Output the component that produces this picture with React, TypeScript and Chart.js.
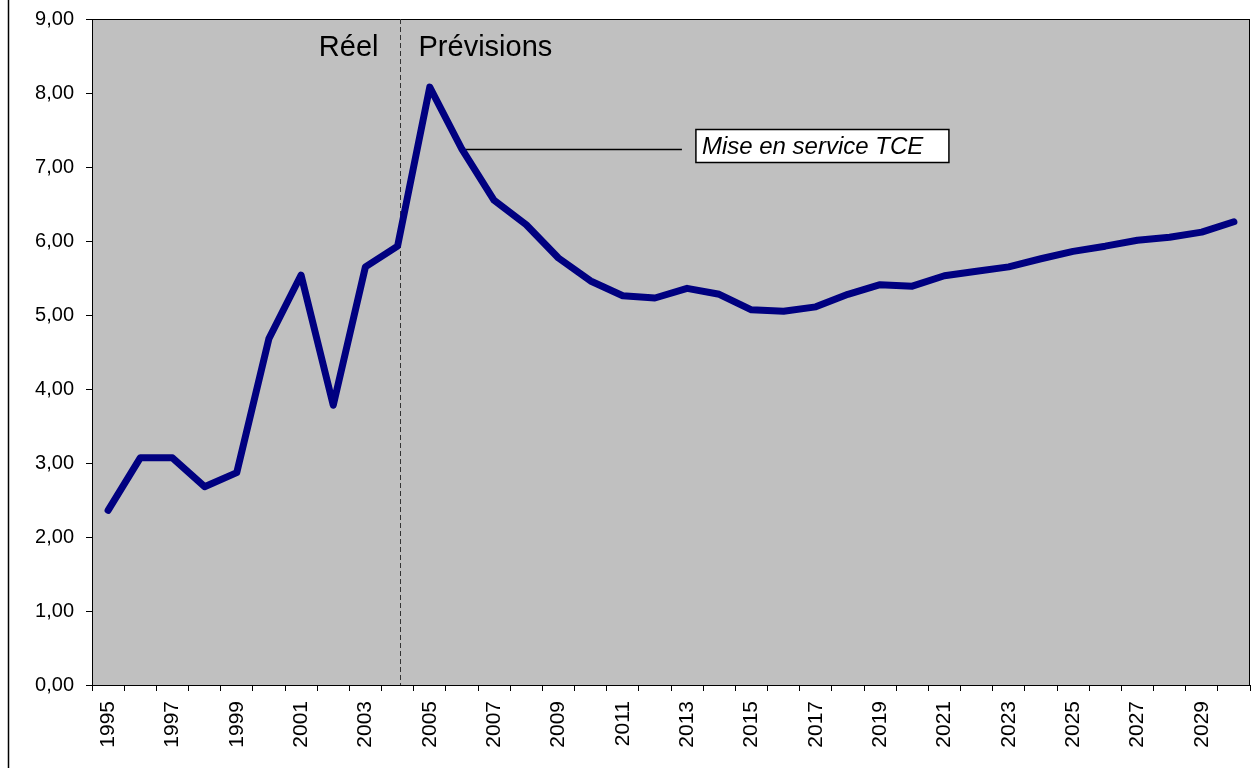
import React, { useEffect, useRef } from "react";
import { Chart, registerables } from "chart.js";

Chart.register(...registerables);

const years: string[] = [
  "1995","1996","1997","1998","1999","2000","2001","2002","2003","2004",
  "2005","2006","2007","2008","2009","2010","2011","2012","2013","2014",
  "2015","2016","2017","2018","2019","2020","2021","2022","2023","2024",
  "2025","2026","2027","2028","2029","2030",
];

const values: number[] = [
  2.36, 3.07, 3.07, 2.68, 2.87, 4.68, 5.54, 3.78, 5.65, 5.93,
  8.08, 7.24, 6.55, 6.22, 5.77, 5.46, 5.26, 5.23, 5.36, 5.28,
  5.07, 5.05, 5.11, 5.28, 5.41, 5.39, 5.53, 5.59, 5.65, 5.76,
  5.86, 5.93, 6.01, 6.05, 6.12, 6.26,
];

const labelReel = "Réel";
const labelPrev = "Prévisions";
const annotationText = "Mise en service TCE";
const splitIndex = 9; // 2004
const annotIndex = 11; // 2006

const FONT = "Arial, 'Liberation Sans', sans-serif";

const decorPlugin = {
  id: "decor",
  beforeDraw(chart: any) {
    const { ctx, chartArea } = chart;
    ctx.save();
    ctx.fillStyle = "#ffffff";
    ctx.fillRect(0, 0, chart.width, chart.height);
    ctx.fillStyle = "#C0C0C0";
    ctx.fillRect(chartArea.left, chartArea.top, chartArea.right - chartArea.left, chartArea.bottom - chartArea.top);
    ctx.strokeStyle = "#000";
    ctx.lineWidth = 1.5;
    ctx.beginPath();
    ctx.moveTo(8.5, 0);
    ctx.lineTo(8.5, chart.height);
    ctx.stroke();
    ctx.restore();
  },
  beforeDatasetsDraw(chart: any) {
    const { ctx, chartArea, scales } = chart;
    const x = scales.x;
    const y = scales.y;
    ctx.save();
    ctx.strokeStyle = "#000";
    ctx.lineWidth = 1;
    ctx.strokeRect(chartArea.left + 0.5, chartArea.top + 0.5, chartArea.right - chartArea.left - 1, chartArea.bottom - chartArea.top);
    const sx = Math.round(x.getPixelForValue(splitIndex) * 0.92 + x.getPixelForValue(splitIndex + 1) * 0.08) + 0.5;
    ctx.strokeStyle = "#333";
    ctx.lineWidth = 1;
    ctx.setLineDash([5, 3]);
    ctx.beginPath();
    ctx.moveTo(sx, chartArea.top);
    ctx.lineTo(sx, chartArea.bottom);
    ctx.stroke();
    ctx.setLineDash([]);
    ctx.fillStyle = "#000";
    ctx.font = `29px ${FONT}`;
    ctx.textBaseline = "alphabetic";
    ctx.textAlign = "right";
    ctx.fillText(labelReel, sx - 22, y.getPixelForValue(8.5));
    ctx.textAlign = "left";
    ctx.fillText(labelPrev, sx + 18, y.getPixelForValue(8.5));
    const ax = x.getPixelForValue(annotIndex) + 4;
    const ay = Math.round(y.getPixelForValue(values[annotIndex])) + 0.5;
    const bx = x.getPixelForValue(annotIndex) + 234;
    const bw = 253;
    const bh = 33;
    ctx.strokeStyle = "#000";
    ctx.lineWidth = 1.5;
    ctx.beginPath();
    ctx.moveTo(ax, ay);
    ctx.lineTo(bx - 14, ay);
    ctx.stroke();
    ctx.fillStyle = "#fff";
    ctx.fillRect(bx, ay - 20, bw, bh);
    ctx.strokeRect(bx, ay - 20, bw, bh);
    ctx.fillStyle = "#000";
    ctx.font = `italic 24px ${FONT}`;
    ctx.textAlign = "left";
    ctx.fillText(annotationText, bx + 6, ay + 4);
    ctx.restore();
  },
};

export default function App() {
  const ref = useRef<HTMLCanvasElement | null>(null);
  useEffect(() => {
    if (!ref.current) return;
    const chart = new Chart(ref.current, {
      type: "line",
      data: {
        labels: years,
        datasets: [
          {
            data: values,
            borderColor: "#000080",
            backgroundColor: "#000080",
            borderWidth: 7,
            pointRadius: 0,
            tension: 0,
            borderCapStyle: "round",
            borderJoinStyle: "round",
            fill: false,
          },
        ],
      },
      options: {
        animation: false,
        responsive: false,
        devicePixelRatio: 1,
        layout: { padding: { top: 19, right: 2, left: 0, bottom: 0 } },
        plugins: { legend: { display: false }, tooltip: { enabled: false } },
        scales: {
          x: {
            type: "category",
            offset: true,
            grid: { offset: true, drawOnChartArea: false, drawTicks: true, tickLength: 6, color: "#000" },
            border: { color: "#000", width: 1 },
            ticks: {
              autoSkip: false,
              maxRotation: 90,
              minRotation: 90,
              padding: 10,
              color: "#000",
              font: { family: FONT, size: 21 },
              callback: (_v: any, i: number) => (i % 2 === 0 ? years[i] : ""),
            },
            afterFit: (s: any) => {
              s.height = 83;
              s.paddingLeft = 0;
              s.paddingRight = 0;
            },
          },
          y: {
            min: 0,
            max: 9,
            grid: { drawOnChartArea: false, drawTicks: true, tickLength: 6, color: "#000" },
            border: { color: "#000", width: 1 },
            ticks: {
              stepSize: 1,
              padding: 12,
              color: "#000",
              font: { family: FONT, size: 20 },
              callback: (v: any) => Number(v).toFixed(2).replace(".", ","),
            },
            afterFit: (s: any) => {
              s.width = 92;
              s.paddingTop = 0;
              s.paddingBottom = 0;
            },
          },
        },
      },
      plugins: [decorPlugin],
    });
    return () => chart.destroy();
  }, []);
  return (
    <div style={{ position: "fixed", left: 0, top: 0, width: 1252, height: 768, background: "#fff" }}>
      <canvas ref={ref} width={1252} height={768} style={{ display: "block" }} />
    </div>
  );
}
